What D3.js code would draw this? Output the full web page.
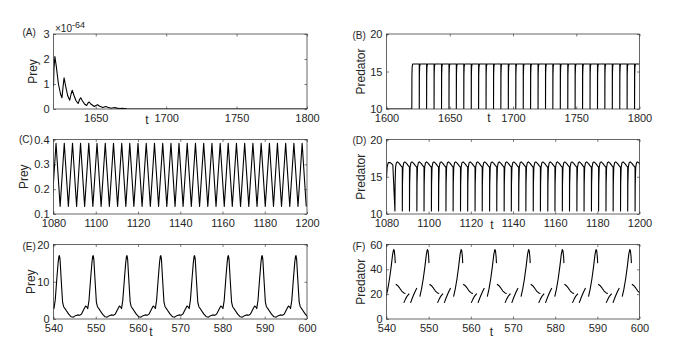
<!DOCTYPE html>
<html>
<head>
<meta charset="utf-8">
<script src="https://cdn.jsdelivr.net/npm/d3@7"></script>
<style>
body { margin: 0; background: #fff; }
text { font-family: "Liberation Sans", Arial, sans-serif; fill: #262626; }
</style>
</head>
<body>
<script>
// ---- values ----

// (A) prey, in units of 1e-64
var aTime = [1620, 1620.3, 1621, 1622, 1623.5, 1625, 1626, 1626.8, 1627.5, 1628.5, 1630, 1631.5,
    1632.5, 1633.3, 1634.5, 1636, 1637.5, 1638.5, 1639.3, 1640.5, 1642, 1643.5, 1644.5, 1645.3,
    1646.5, 1649, 1650.5, 1651.3, 1652.5, 1655, 1656.5, 1657.3, 1658.5, 1661, 1662.5, 1663.5,
    1665, 1667, 1669, 1672, 1680, 1690, 1800];
var aPrey = [0.9, 1.6, 2.1, 1.7, 1.0, 0.6, 0.45, 0.9, 1.25, 0.95, 0.55, 0.35,
    0.6, 0.75, 0.55, 0.33, 0.22, 0.38, 0.45, 0.33, 0.2, 0.14, 0.24, 0.28,
    0.2, 0.1, 0.15, 0.17, 0.12, 0.06, 0.09, 0.1, 0.07, 0.03, 0.05, 0.055,
    0.035, 0.02, 0.025, 0.01, 0.003, 0.001, 0];

// (B) predator: flat at 10, then a pulse starting at each of these times
var bLead = [[1600, 10], [1620, 10]];
var bPulseStart = [1620.0, 1625.9, 1631.7, 1637.6, 1643.5, 1649.4, 1655.2, 1661.1, 1667.0, 1672.8,
    1678.7, 1684.6, 1690.4, 1696.3, 1702.2, 1708.1, 1713.9, 1719.8, 1725.7, 1731.5, 1737.4,
    1743.3, 1749.1, 1755.0, 1760.9, 1766.8, 1772.6, 1778.5, 1784.4, 1790.2, 1796.1];
var bPulseOffset = [0, 0.1, 0.3, 0.6, 0.9];
var bPulseValue = [10, 14.5, 15.6, 15.95, 16];

// (C) prey: zigzag, peaks then troughs
var cPeakTime = [1077.3, 1081.2, 1085.1, 1089.0, 1092.8, 1096.7, 1100.6, 1104.5, 1108.4, 1112.3, 1116.1,
    1120.0, 1123.9, 1127.8, 1131.7, 1135.6, 1139.4, 1143.3, 1147.2, 1151.1, 1155.0, 1158.9,
    1162.7, 1166.6, 1170.5, 1174.4, 1178.3, 1182.2, 1186.0, 1189.9, 1193.8, 1197.7];
var cCycleOffset = [0, 1.94];
var cCycleValue = [0.385, 0.13];

// (D) predator: drop to ~10.4 at each time, then a hump near 17
var dLead = [[1080, 14.8], [1080.3, 16.3], [1080.8, 16.9], [1081.8, 16.9], [1083, 16.6]];
var dDropTime = [1084.0, 1087.5, 1090.9, 1094.4, 1097.8, 1101.3, 1104.7, 1108.2, 1111.6, 1115.1,
    1118.5, 1122.0, 1125.4, 1128.9, 1132.3, 1135.8, 1139.2, 1142.7, 1146.1, 1149.6, 1153.0,
    1156.5, 1159.9, 1163.4, 1166.8, 1170.3, 1173.7, 1177.2, 1180.6, 1184.1, 1187.5, 1191.0,
    1194.4, 1197.9];
var dCycleOffset = [0, 0.08, 0.3, 0.7, 1.2, 2.0, 2.8, 3.4];
var dCycleValue = [10.4, 14, 16.3, 16.9, 17.0, 16.8, 16.5, 16.3];

// (E) prey: one cycle per peak
var ePeakTime = [533.4, 541.4, 549.4, 557.4, 565.4, 573.4, 581.4, 589.4, 597.4];
var eCycleOffset = [0, 0.15, 0.4, 0.75, 1.0, 1.5, 2.2, 2.8, 3.3, 3.8, 4.3, 4.8, 5.2, 5.7,
    6.2, 6.5, 6.7, 7.0, 7.4, 7.7, 7.88];
var eCycleValue = [17, 16, 11, 4.5, 3.3, 2.5, 1.3, 0.6, 0.5, 0.9, 1.1, 1.0, 1.3, 2.4,
    3.5, 3.2, 2.8, 5, 11, 15.2, 16.8];

// (F) predator: broken trace, four pieces per cycle around each peak
var fPeakTime = [541.7, 549.7, 557.7, 565.7, 573.7, 581.7, 589.7, 597.7];
var fPieces = [
    [[-1.8, 18], [-1.4, 24], [-1.0, 32], [-0.6, 42], [-0.25, 52], [0, 56], [0.15, 55], [0.3, 50], [0.38, 45]],
    [[0.5, 28], [0.9, 27], [1.4, 25], [1.9, 22.5], [2.4, 21], [2.8, 20.5]],
    [[2.4, 13], [2.8, 16], [3.2, 18.5], [3.7, 20.5]],
    [[4.0, 13], [4.5, 17.5], [5.0, 21.5], [5.5, 25]]
];

// ticks
var aXTicks = [1650, 1700, 1750, 1800], aYTicks = [0, 1, 2, 3];
var bXTicks = [1600, 1650, 1700, 1750, 1800], bYTicks = [10, 15, 20];
var cXTicks = [1080, 1100, 1120, 1140, 1160, 1180, 1200], cYTicks = [0.1, 0.2, 0.3, 0.4];
var dXTicks = cXTicks, dYTicks = [10, 15, 20];
var eXTicks = [540, 550, 560, 570, 580, 590, 600], eYTicks = [0, 10, 20];
var fXTicks = eXTicks, fYTicks = [0, 20, 40, 60];

// ---- build traces ----
function cycles(starts, off, val, hold, end) {
    var pts = [];
    starts.forEach(function (s, i) {
        off.forEach(function (o, j) { pts.push([s + o, val[j]]); });
        if (hold) {
            var next = i + 1 < starts.length ? starts[i + 1] : end;
            pts.push([next, val[val.length - 1]]);
        }
    });
    return pts;
}

var aLine = aTime.map(function (t, i) { return [t, aPrey[i]]; });
var bLine = bLead.concat(cycles(bPulseStart, bPulseOffset, bPulseValue, true, 1800));
var cLine = cycles(cPeakTime, cCycleOffset, cCycleValue, false);
var dLine = dLead.concat(cycles(dDropTime, dCycleOffset, dCycleValue, true, 1200));
var eLine = cycles(ePeakTime, eCycleOffset, eCycleValue, false);
var fLines = [];
fPeakTime.forEach(function (p) {
    fPieces.forEach(function (piece) {
        fLines.push(piece.map(function (d) { return [p + d[0], d[1]]; }));
    });
});

// ---- layout ----
var L = [53.5, 307], R = [386.5, 639.5];
var rows = [[34, 109], [139.5, 214], [244.5, 319]];

var panels = [
    {id: "A", xr: L, yr: rows[0], xd: [1620, 1800], yd: [0, 3], xt: aXTicks, yt: aYTicks, fmt: "d",
        lines: [aLine], ylab: "Prey", ylx: 36.5, lab: "(A)", lx: 22.5, ly: 36, t: [147, 124]},
    {id: "B", xr: R, yr: rows[0], xd: [1600, 1800], yd: [10, 20], xt: bXTicks, yt: bYTicks, fmt: "d",
        lines: [bLine], ylab: "Predator", ylx: 364.5, lab: "(B)", lx: 352.5, ly: 38.5, t: [489, 122]},
    {id: "C", xr: L, yr: rows[1], xd: [1080, 1200], yd: [0.1, 0.4], xt: cXTicks, yt: cYTicks, fmt: ".1f",
        lines: [cLine], ylab: "Prey", ylx: 27.5, lab: "(C)", lx: 19, ly: 143, t: null},
    {id: "D", xr: R, yr: rows[1], xd: [1080, 1200], yd: [10, 20], xt: dXTicks, yt: dYTicks, fmt: "d",
        lines: [dLine], ylab: "Predator", ylx: 364.5, lab: "(D)", lx: 352.5, ly: 144, t: [492, 229]},
    {id: "E", xr: L, yr: rows[2], xd: [540, 600], yd: [0, 20], xt: eXTicks, yt: eYTicks, fmt: "d",
        lines: [eLine], ylab: "Prey", ylx: 34.5, lab: "(E)", lx: 22.5, ly: 250, t: [151, 336]},
    {id: "F", xr: R, yr: rows[2], xd: [540, 600], yd: [0, 60], xt: fXTicks, yt: fYTicks, fmt: "d",
        lines: fLines, ylab: "Predator", ylx: 364.5, lab: "(F)", lx: 352.5, ly: 250, t: [491.5, 336]}
];

var svg = d3.select("body").append("svg")
    .attr("width", 682)
    .attr("height", 344);

svg.append("rect").attr("width", 682).attr("height", 344).attr("fill", "#fff");

var tick = 2.5;

panels.forEach(function (p) {
    var x = d3.scaleLinear().domain(p.xd).range(p.xr);
    var y = d3.scaleLinear().domain(p.yd).range([p.yr[1], p.yr[0]]);
    var g = svg.append("g");

    g.append("clipPath").attr("id", "clip" + p.id)
        .append("rect")
        .attr("x", p.xr[0]).attr("y", p.yr[0])
        .attr("width", p.xr[1] - p.xr[0]).attr("height", p.yr[1] - p.yr[0]);

    var line = d3.line().x(function (d) { return x(d[0]); }).y(function (d) { return y(d[1]); });
    g.append("g").attr("clip-path", "url(#clip" + p.id + ")")
        .selectAll("path")
        .data(p.lines)
        .enter().append("path")
        .attr("d", line)
        .attr("fill", "none")
        .attr("stroke", "#000")
        .attr("stroke-width", 1.1)
        .attr("stroke-linejoin", "round");

    // inward ticks on all four sides (matlab box)
    g.append("g").attr("transform", "translate(0," + p.yr[1] + ")")
        .call(d3.axisBottom(x).tickValues(p.xt).tickSize(-tick).tickPadding(5).tickFormat(d3.format("d")));
    g.append("g").attr("transform", "translate(0," + p.yr[0] + ")")
        .call(d3.axisTop(x).tickValues(p.xt).tickSize(-tick).tickFormat(""));
    g.append("g").attr("transform", "translate(" + p.xr[0] + ",0)")
        .call(d3.axisLeft(y).tickValues(p.yt).tickSize(-tick).tickPadding(4).tickFormat(d3.format(p.fmt)));
    g.append("g").attr("transform", "translate(" + p.xr[1] + ",0)")
        .call(d3.axisRight(y).tickValues(p.yt).tickSize(-tick).tickFormat(""));

    g.selectAll(".domain").remove();
    g.selectAll(".tick line").attr("stroke", "#262626").attr("stroke-width", 0.6);
    g.selectAll(".tick text")
        .style("font-family", "'Liberation Sans', Arial, sans-serif")
        .style("font-size", "11px")
        .attr("fill", "#262626");

    g.append("rect")
        .attr("x", p.xr[0]).attr("y", p.yr[0])
        .attr("width", p.xr[1] - p.xr[0]).attr("height", p.yr[1] - p.yr[0])
        .attr("fill", "none")
        .attr("stroke", "#262626")
        .attr("stroke-width", 0.7);

    // labels
    g.append("text")
        .attr("transform", "translate(" + p.ylx + "," + (p.yr[0] + p.yr[1]) / 2 + ") rotate(-90)")
        .attr("text-anchor", "middle")
        .style("font-size", "12px")
        .text(p.ylab);

    g.append("text")
        .attr("x", p.lx).attr("y", p.ly)
        .style("font-size", "10px")
        .text(p.lab);

    if (p.t) {
        g.append("text")
            .attr("x", p.t[0]).attr("y", p.t[1])
            .attr("text-anchor", "middle")
            .style("font-size", "12px")
            .text("t");
    }
});

// exponent for panel A
var expo = svg.append("text").attr("x", 55).attr("y", 32).style("font-size", "10px");
expo.append("tspan").text("\u00d710");
expo.append("tspan").attr("dy", -4).style("font-size", "9px").text("-64");
</script>
</body>
</html>
